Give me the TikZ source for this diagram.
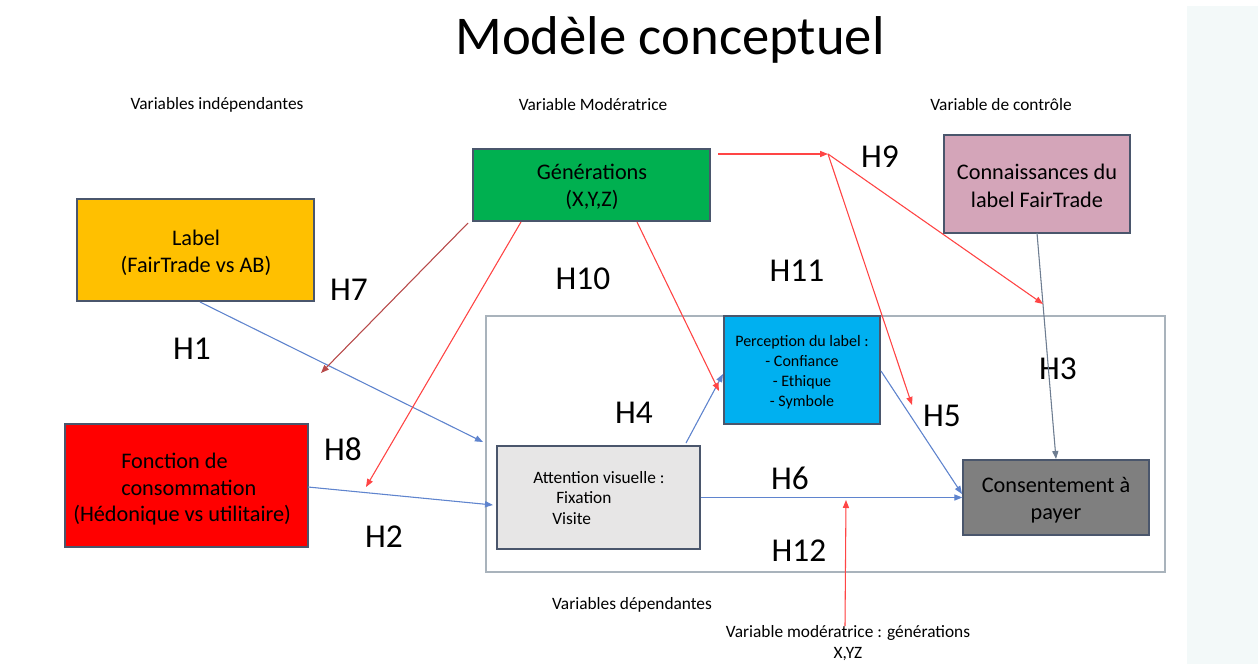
\documentclass[tikz,border=0pt]{standalone}
\usepackage{fontspec}
\setmainfont{Carlito}
\usetikzlibrary{arrows.meta}
\definecolor{yellowc}{HTML}{FFC000}
\definecolor{greenc}{HTML}{00B050}
\definecolor{pinkc}{HTML}{D4A5B9}
\definecolor{redc}{HTML}{FF0000}
\definecolor{bluec}{HTML}{00B0F0}
\definecolor{lgrayc}{HTML}{E7E6E6}
\definecolor{dgrayc}{HTML}{7F7F7F}
\definecolor{bordc}{HTML}{4A566C}
\definecolor{deprect}{HTML}{A9B3BC}
\definecolor{bluearr}{HTML}{5F84CE}
\definecolor{redarr}{HTML}{FF4545}
\definecolor{darkredarr}{HTML}{B84A4A}
\definecolor{slatearr}{HTML}{6E7D91}
\definecolor{panelc}{HTML}{F3F9F9}
\tikzset{
  box/.style={draw=bordc, line width=1pt, inner sep=0pt},
  boxtext/.style={font=\fontsize{16.7pt}{20.5pt}\selectfont, align=center, inner sep=0pt},
  smalltext/.style={font=\fontsize{13pt}{16pt}\selectfont, inner sep=0pt},
  hlab/.style={font=\fontsize{25pt}{30pt}\selectfont, inner sep=0pt},
  arr/.style={line width=0.8pt, -{Triangle[length=6pt,width=4.6pt]}},
  bluea/.style={arr, draw=bluearr, fill=bluearr},
  reda/.style={arr, draw=redarr, fill=redarr},
}
\begin{document}
\begin{tikzpicture}[x=0.75pt,y=-0.75pt]
\useasboundingbox (0,0) rectangle (1258,664);
\fill[white] (0,0) rectangle (1258,664);
\fill[panelc] (1187,6) rectangle (1258,664);

% title and headings
\node[font=\fontsize{41pt}{48pt}\selectfont, inner sep=0pt] (title) at (670,40) {Modèle conceptuel};
\node[smalltext] (hind) at (217,105) {Variables indépendantes};
\node[smalltext] (hmod) at (593,105) {Variable Modératrice};
\node[smalltext] (hctl) at (1001,105) {Variable de contrôle};

% dependent variables frame
\node[draw=deprect, line width=1.2pt, minimum width=509.25pt, minimum height=192pt, inner sep=0pt] (dep) at (825.5,444) {};

% boxes
\node[box, fill=yellowc, minimum width=177.75pt, minimum height=76.5pt] (label) at (195.5,250) {};
\node[boxtext] (labelt) at (196,253) {Label\\(FairTrade vs AB)};

\node[box, fill=greenc, minimum width=177.75pt, minimum height=54pt] (gen) at (591.5,185) {};
\node[boxtext] (gent) at (592,187) {Générations\\(X,Y,Z)};

\node[box, fill=pinkc, minimum width=139.5pt, minimum height=73.5pt] (conn) at (1037,184) {};
\node[boxtext] (connt) at (1037,186) {Connaissances du\\label FairTrade};

\node[box, fill=redc, minimum width=182.25pt, minimum height=92.25pt] (fonc) at (186.5,485.5) {};
\node[boxtext, anchor=west] (fonct1) at (121,461) {Fonction de};
\node[boxtext, anchor=west] (fonct2) at (121,488) {consommation};
\node[boxtext, anchor=west] (fonct3) at (73,515) {(Hédonique vs utilitaire)};

\node[box, fill=bluec, minimum width=117pt, minimum height=81pt] (perc) at (802,370) {};
\node[font=\fontsize{12pt}{15pt}\selectfont, align=center, inner sep=0pt] (perct) at (802,372) {Perception du label :\\- Confiance\\- Ethique\\- Symbole};

\node[box, fill=lgrayc, minimum width=152.25pt, minimum height=77.25pt] (att) at (598.5,497.5) {};
\node[smalltext, anchor=west] (att1) at (533,478) {Attention visuelle :};
\node[smalltext, anchor=west] (att2) at (556,498) {Fixation};
\node[smalltext, anchor=west] (att3) at (552,519) {Visite};

\node[box, fill=dgrayc, minimum width=139.5pt, minimum height=56.25pt] (cons) at (1056,497.5) {};
\node[boxtext] (const) at (1056,500) {Consentement à\\payer};

% bottom labels
\node[smalltext] (hdep) at (632,605) {Variables dépendantes};
\node[smalltext, align=center, font=\fontsize{13pt}{15.5pt}\selectfont] (hmod2) at (848,643) {Variable modératrice : générations\\X,YZ};

% H labels
\node[hlab] (h1) at (192,349) {H1};
\node[hlab] (h7) at (349,290) {H7};
\node[hlab] (h10) at (583,279) {H10};
\node[hlab] (h11) at (797,271) {H11};
\node[hlab] (h9) at (880,157) {H9};
\node[hlab] (h3) at (1058,369) {H3};
\node[hlab] (h4) at (634,413) {H4};
\node[hlab] (h5) at (942,416) {H5};
\node[hlab] (h8) at (343,449) {H8};
\node[hlab] (h6) at (790,478) {H6};
\node[hlab] (h2) at (384,537) {H2};
\node[hlab] (h12) at (799,551) {H12};

% connector coordinates
\coordinate (labelout) at (200,302);
\coordinate (depin1) at (483,442);
\coordinate (foncout) at (308,487);
\coordinate (depin2) at (493,505);
\coordinate (attup) at (686,443);
\coordinate (percin) at (723,374);
\coordinate (percout) at (881,371);
\coordinate (consin) at (962,494);
\coordinate (connout) at (1037,233);
\coordinate (consup) at (1056,459);
\coordinate (genr) at (718,154);
\coordinate (split) at (828,154);
\coordinate (h9a) at (1043,304);
\coordinate (h9b) at (912,405);
\coordinate (gen1) at (468,223);
\coordinate (h7end) at (321,373);
\coordinate (gen2) at (521,222);
\coordinate (h8end) at (366,487);
\coordinate (gen3) at (637,222);
\coordinate (h10end) at (719,391);
\coordinate (modbot) at (845,626);
\coordinate (h12end) at (846,500);

% blue arrows
\draw[bluea] (labelout) -- (depin1);
\draw[bluea] (foncout) -- (depin2);
\draw[bluea] (attup) -- (percin);
\draw[bluea] (att.east) -- (cons.west);
\draw[bluea] (percout) -- (consin);
\draw[arr, draw=slatearr, fill=slatearr] (connout) -- (consup);

% red arrows
\draw[reda] (genr) -- (split);
\draw[reda] (split) -- (h9a);
\draw[reda] (split) -- (h9b);
\draw[arr, draw=darkredarr, fill=darkredarr] (gen1) -- (h7end);
\draw[reda] (gen2) -- (h8end);
\draw[reda] (gen3) -- (h10end);
\draw[reda] (modbot) -- (h12end);
\end{tikzpicture}
\end{document}
